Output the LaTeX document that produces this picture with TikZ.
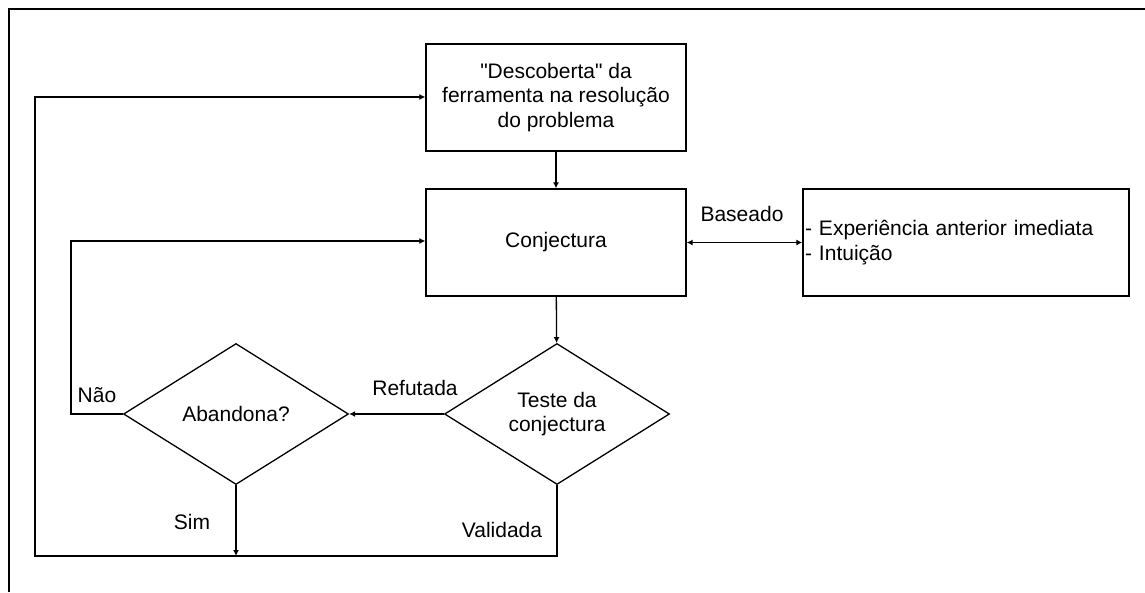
\documentclass[tikz,border=0pt]{standalone}
\usepackage{fontspec}
\setmainfont{Liberation Sans}
\usetikzlibrary{shapes.geometric,arrows.meta}
\begin{document}
\begin{tikzpicture}[x=1pt,y=-1pt,
  every node/.style={font=\fontsize{21}{24.5}\selectfont},
  box/.style={draw,line width=1.3pt,rectangle,minimum width=260pt,minimum height=107pt,inner sep=2pt,align=center},
  dec/.style={draw,line width=1.3pt,diamond,minimum width=225pt,minimum height=141pt,inner sep=0pt,align=center},
  conn/.style={line width=1.3pt,-{Latex[length=6pt,width=6pt]}},
  lbl/.style={inner sep=0pt}]
\useasboundingbox (0,0) rectangle (1145,592);
\draw[line width=2pt] (9,592) -- (9,9) -- (1145,9);

\node[box] (top) at (556,97.5) {\textquotedbl Descoberta\textquotedbl\ da\\ferramenta na resolução\\do problema};
\node[box] (conj) at (556,242.5) {Conjectura};
\node[box,minimum width=326pt,align=left,text width=322pt,inner sep=2pt] (exp) at (966,242.5) {- Experiência anterior imediata\\- Intuição};
\node[dec] (aband) at (236,414) {Abandona?};
\node[dec] (teste) at (557,414) {Teste da\\conjectura};

\coordinate (n1) at (71,414);
\coordinate (n2) at (71,241);
\coordinate (s1) at (236,556);
\coordinate (v1) at (557,556);
\coordinate (v2) at (35,556);
\coordinate (v3) at (35,97);

\draw[conn] (top) -- (conj);
\draw[conn] (conj) -- (teste);
\draw[conn] (teste.west) -- (aband.east);
\draw[conn] (aband.west) -- (n1) -- (n2) -- (conj.west |- n2);
\draw[conn] (aband.south) -- (s1);
\draw[conn] (teste.south) -- (v1) -- (v2) -- (v3) -- (top.west |- v3);
\draw[line width=1.3pt,{Latex[length=6pt,width=6pt]}-{Latex[length=6pt,width=6pt]}] (conj.east) -- (exp.west);

\node[lbl] (lref) at (415,388) {Refutada};
\node[lbl] (lnao) at (97,395) {Não};
\node[lbl] (lsim) at (192,522) {Sim};
\node[lbl] (lval) at (502,530) {Validada};
\node[lbl] (lbas) at (742,214) {Baseado};
\end{tikzpicture}
\end{document}
